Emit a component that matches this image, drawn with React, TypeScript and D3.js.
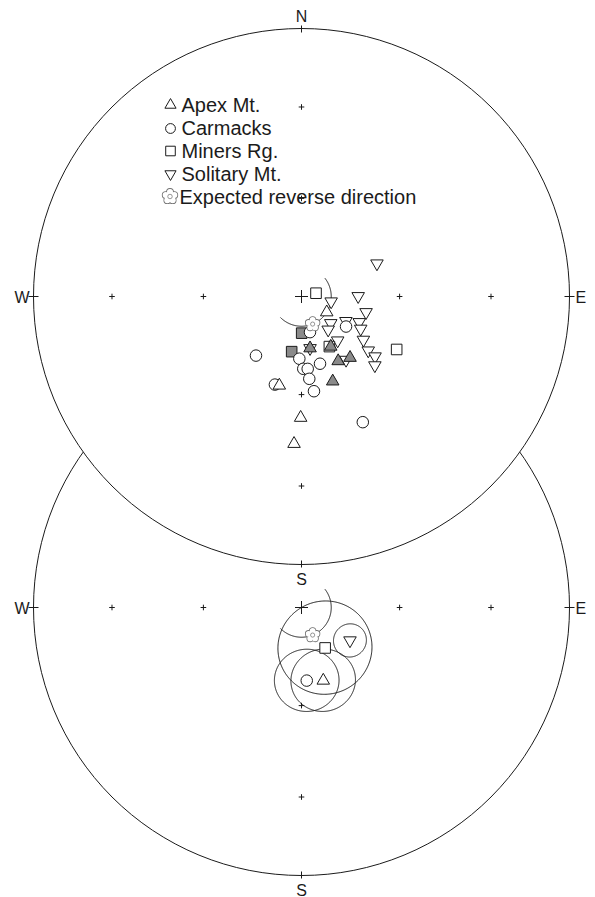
import React from 'react';
import * as d3 from 'd3';

const WIDTH = 595;
const HEIGHT = 897;
const RADIUS = 268;
const CENTER_X = 301.5;
const TOP_CY = 296.5;
const BOTTOM_CY = 607.5;

// Site directions as [declination, inclination]; negative inclination = upper hemisphere (open symbol)
const apexMt: [number, number][] = [
  [121.9, -81.0], [170.6, 74.1], [149.7, 72.4], [150.4, 67.4], [141.6, 66.2],
  [159.8, 62.4], [194.0, -62.0], [180.4, -52.7], [182.9, -44.2],
];
const carmacks: [number, number][] = [
  [124.0, -73.7], [166.6, -78.9], [217.6, -67.3], [182.0, -71.1], [164.6, -68.8],
  [178.6, -68.0], [175.1, -67.9], [174.6, -64.8], [172.5, -60.8], [196.8, -61.9],
  [154.0, -46.7],
];
const minersRg: [number, number][] = [
  [77.2, -85.5], [119.1, -56.6], [179.7, 78.9], [190.1, 73.0], [150.9, -72.6],
];
const solitaryMt: [number, number][] = [
  [66.4, -64.9], [89.7, -72.8], [99.6, -80.9], [103.7, -69.8], [132.4, -78.0],
  [141.2, -77.1], [119.0, -74.6], [114.0, -70.8], [118.6, -69.5], [125.0, -67.0],
  [140.6, -72.7], [129.0, -63.8], [129.2, -61.0], [133.2, -59.2], [144.9, -66.4],
  [170.6, -74.1],
];

// Expected reverse direction and its inclination arc (declination span)
const expectedDir: [number, number] = [158, -81];
const expectedArcDecs: [number, number] = [52, 225];

// Locality means with alpha-95
const meanSites = ['Solitary Mt.', 'Miners Rg.', 'Carmacks', 'Apex Mt.'];
const meanDec = [124.2, 149.7, 175.9, 163.4];
const meanInc = [-72.2, -75.8, -67.7, -66.8];
const meanA95 = [5.0, 14.2, 9.6, 9.6];

const legendLabels = ['Apex Mt.', 'Carmacks', 'Miners Rg.', 'Solitary Mt.', 'Expected reverse direction'];
const gridIncs = [30, 60];
const cardinalDecs = [0, 90, 180, 270];

type Kind = 'up' | 'circle' | 'square' | 'down';
const siteKinds: Record<string, Kind> = {
  'Apex Mt.': 'up',
  Carmacks: 'circle',
  'Miners Rg.': 'square',
  'Solitary Mt.': 'down',
};

const FONT = 'Liberation Sans, Arial, Helvetica, sans-serif';
const INK = '#1b1b1b';
const GREY = '#8a8a8a';
const toRad = Math.PI / 180;

// Lambert equal-area (Schmidt) projection relative to net centre
function project(dec: number, inc: number): [number, number] {
  const r = RADIUS * Math.SQRT2 * Math.sin(((90 - Math.abs(inc)) / 2) * toRad);
  return [r * Math.sin(dec * toRad), -r * Math.cos(dec * toRad)];
}

const lineGen = d3.line<[number, number]>().x((d) => d[0]).y((d) => d[1]);

function coneRing(dec: number, inc: number, a95: number): string {
  const poly = d3.geoCircle().center([dec, Math.abs(inc)]).radius(a95).precision(1)();
  const pts = poly.coordinates[0].map((c) => project(c[0], c[1]));
  return (lineGen(pts) || '') + 'Z';
}

function incArc(inc: number, d0: number, d1: number): string {
  const pts = d3.range(d0, d1 + 0.01, 1).map((d) => project(d, inc));
  return lineGen(pts) || '';
}

const symPaths: Record<Kind, string> = {
  up: d3.symbol().type(d3.symbolTriangle).size(68)() || '',
  down: d3.symbol().type(d3.symbolTriangle).size(68)() || '',
  circle: d3.symbol().type(d3.symbolCircle).size(104)() || '',
  square: d3.symbol().type(d3.symbolSquare).size(112)() || '',
};
const legendPaths: Record<Kind, string> = {
  up: d3.symbol().type(d3.symbolTriangle).size(54)() || '',
  down: d3.symbol().type(d3.symbolTriangle).size(54)() || '',
  circle: d3.symbol().type(d3.symbolCircle).size(76)() || '',
  square: d3.symbol().type(d3.symbolSquare).size(92)() || '',
};

function Marker({ kind, x, y, filled, paths }: { kind: Kind; x: number; y: number; filled: boolean; paths: Record<Kind, string> }) {
  const rot = kind === 'down' ? ' rotate(180)' : '';
  return (
    <path
      d={paths[kind]}
      transform={`translate(${x},${y})${rot}`}
      fill={filled ? GREY : '#fff'}
      stroke={INK}
      strokeWidth={1}
    />
  );
}

// Five-petal outline used for the expected direction
function Flower({ x, y, s }: { x: number; y: number; s: number }) {
  const petals = d3.range(5).map((i) => {
    const a = (i * 72 - 90) * toRad;
    return [Math.cos(a) * s * 0.6, Math.sin(a) * s * 0.6] as [number, number];
  });
  const pr = s * 0.42;
  const col = '#707070';
  return (
    <g transform={`translate(${x},${y})`}>
      {petals.map((p, i) => (
        <circle key={`o${i}`} cx={p[0]} cy={p[1]} r={pr} fill="#fff" stroke={col} strokeWidth={1.5} />
      ))}
      {petals.map((p, i) => (
        <circle key={`f${i}`} cx={p[0]} cy={p[1]} r={pr - 0.1} fill="#fff" />
      ))}
      <circle r={s * 0.3} fill="#fff" stroke={col} strokeWidth={0.7} />
    </g>
  );
}

function Net({ cy, labels }: { cy: number; labels: { n?: boolean; s: boolean } }) {
  const crosses: [number, number][] = [[0, 0]];
  cardinalDecs.forEach((d) => gridIncs.forEach((i) => crosses.push(project(d, i))));
  return (
    <g>
      <circle cx={CENTER_X} cy={cy} r={RADIUS} fill="#fff" stroke={INK} strokeWidth={1} />
      <g transform={`translate(${CENTER_X},${cy})`} stroke={INK} strokeWidth={1}>
        {crosses.map((c, i) => {
          const a = i === 0 ? 6.5 : 2.8;
          return (
            <g key={i}>
              <line x1={c[0] - a} x2={c[0] + a} y1={c[1]} y2={c[1]} />
              <line x1={c[0]} x2={c[0]} y1={c[1] - a} y2={c[1] + a} />
            </g>
          );
        })}
        <line x1={0} x2={0} y1={-RADIUS - 3} y2={-RADIUS + 4} />
        <line x1={0} x2={0} y1={RADIUS - 4} y2={RADIUS + 3} />
        <line x1={-RADIUS - 5} x2={-RADIUS + 5} y1={0} y2={0} />
        <line x1={RADIUS - 5} x2={RADIUS + 5} y1={0} y2={0} />
      </g>
      <g fontFamily={FONT} fontSize={16} fill={INK}>
        {labels.n && (
          <text x={CENTER_X} y={cy - RADIUS - 7} textAnchor="middle">N</text>
        )}
        {labels.s && (
          <text x={CENTER_X} y={cy + RADIUS + 20} textAnchor="middle">S</text>
        )}
        <text x={CENTER_X - RADIUS - 4} y={cy + 6} textAnchor="end">W</text>
        <text x={CENTER_X + RADIUS + 6} y={cy + 6}>E</text>
      </g>
    </g>
  );
}

export default function App() {
  const groups: { site: string; data: [number, number][] }[] = [
    { site: 'Solitary Mt.', data: solitaryMt },
    { site: 'Miners Rg.', data: minersRg },
    { site: 'Carmacks', data: carmacks },
    { site: 'Apex Mt.', data: apexMt },
  ];
  const ex = project(expectedDir[0], expectedDir[1]);
  const arc = incArc(expectedDir[1], expectedArcDecs[0], expectedArcDecs[1]);
  const legendKinds: Kind[] = ['up', 'circle', 'square', 'down'];
  const legendBase = [111.5, 135, 157.5, 180.5, 203.5];

  return (
    <svg width={WIDTH} height={HEIGHT} style={{ position: 'absolute', left: 0, top: 0 }}>
      <rect width={WIDTH} height={HEIGHT} fill="#fff" />

      {/* lower net: locality means with alpha-95 cones */}
      <Net cy={BOTTOM_CY} labels={{ s: true }} />
      <g transform={`translate(${CENTER_X},${BOTTOM_CY})`}>
        <path d={arc} fill="none" stroke={INK} strokeWidth={1} />
        {meanSites.map((s, i) => (
          <path key={`c${i}`} d={coneRing(meanDec[i], meanInc[i], meanA95[i])} fill="none" stroke={INK} strokeWidth={1} />
        ))}
        <Flower x={ex[0]} y={ex[1]} s={7} />
        {meanSites.map((s, i) => {
          const p = project(meanDec[i], meanInc[i]);
          return <Marker key={`m${i}`} kind={siteKinds[s]} x={p[0]} y={p[1]} filled={meanInc[i] > 0} paths={symPaths} />;
        })}
      </g>

      {/* upper net: site directions */}
      <Net cy={TOP_CY} labels={{ n: true, s: true }} />
      <g transform={`translate(${CENTER_X},${TOP_CY})`}>
        <path d={arc} fill="none" stroke={INK} strokeWidth={1} />
        {groups.map((g) =>
          g.data.map((d, i) => {
            const p = project(d[0], d[1]);
            return <Marker key={`${g.site}${i}`} kind={siteKinds[g.site]} x={p[0]} y={p[1]} filled={d[1] > 0} paths={symPaths} />;
          })
        )}
        <Flower x={ex[0]} y={ex[1]} s={7} />
      </g>

      {/* legend */}
      <g fontFamily={FONT} fontSize={20} fill={INK}>
        {legendLabels.map((lab, i) => (
          <g key={lab}>
            {i < 4 ? (
              <Marker kind={legendKinds[i]} x={170.5} y={legendBase[i] - 6.5} filled={false} paths={legendPaths} />
            ) : (
              <Flower x={170} y={legendBase[i] - 7} s={7.5} />
            )}
            <text x={i < 4 ? 181.5 : 179.5} y={legendBase[i]}>{lab}</text>
          </g>
        ))}
      </g>
    </svg>
  );
}
